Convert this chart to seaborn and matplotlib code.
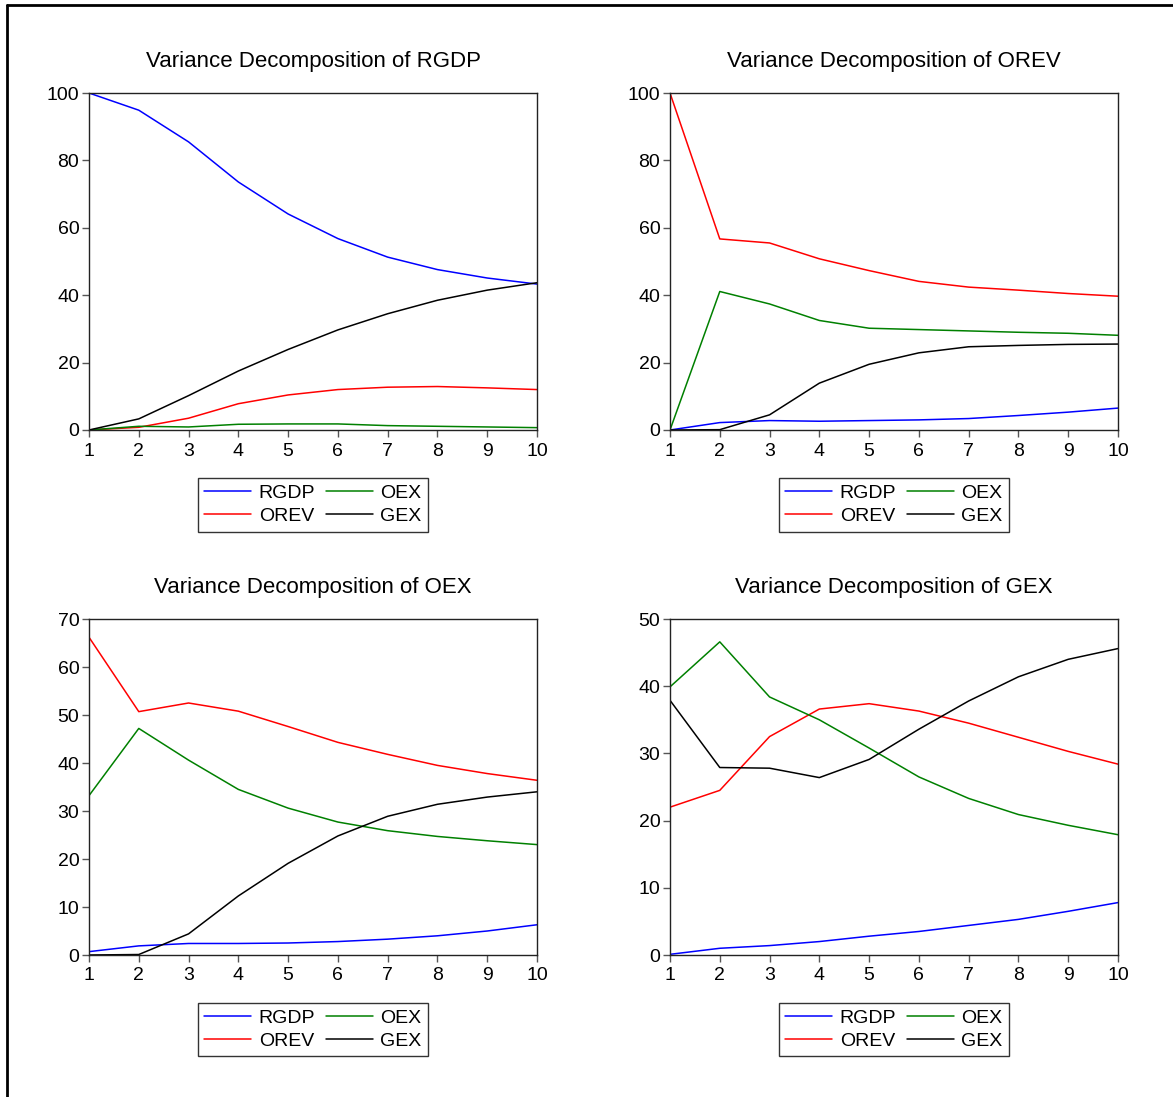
import matplotlib
matplotlib.use('Agg')
import matplotlib.pyplot as plt
from matplotlib.lines import Line2D
import seaborn as sns
import pandas as pd

periods = [1, 2, 3, 4, 5, 6, 7, 8, 9, 10]
shocks = ['RGDP', 'OREV', 'OEX', 'GEX']
getColor = {'RGDP': 'blue', 'OREV': 'red', 'OEX': 'green', 'GEX': 'black'}

### Variance decomposition of RGDP
rgdp_rgdp = [100, 94.9, 85.5, 73.6, 64.1, 56.8, 51.3, 47.6, 45.1, 43.3]
rgdp_orev = [0, 0.8, 3.5, 7.8, 10.4, 12.0, 12.7, 12.9, 12.5, 12.0]
rgdp_oex = [0, 1.1, 0.9, 1.7, 1.8, 1.8, 1.3, 1.1, 0.9, 0.7]
rgdp_gex = [0, 3.3, 10.2, 17.5, 23.9, 29.7, 34.5, 38.5, 41.5, 43.7]

### Variance decomposition of OREV
orev_rgdp = [0, 2.2, 2.8, 2.6, 2.8, 3.0, 3.4, 4.3, 5.3, 6.5]
orev_orev = [100, 56.7, 55.5, 50.8, 47.3, 44.1, 42.4, 41.5, 40.5, 39.7]
orev_oex = [0, 41.1, 37.4, 32.5, 30.2, 29.8, 29.4, 29.0, 28.7, 28.1]
orev_gex = [0, 0.1, 4.5, 13.9, 19.5, 22.9, 24.7, 25.1, 25.4, 25.5]

### Variance decomposition of OEX
oex_rgdp = [0.7, 1.9, 2.4, 2.4, 2.5, 2.8, 3.3, 4.0, 5.0, 6.3]
oex_orev = [66.2, 50.7, 52.5, 50.8, 47.6, 44.3, 41.8, 39.5, 37.8, 36.4]
oex_oex = [33.2, 47.2, 40.6, 34.5, 30.6, 27.7, 25.9, 24.7, 23.8, 23.0]
oex_gex = [0, 0.1, 4.4, 12.3, 19.1, 24.8, 28.9, 31.4, 32.9, 34.0]

### Variance decomposition of GEX
gex_rgdp = [0.1, 1.0, 1.4, 2.0, 2.8, 3.5, 4.4, 5.3, 6.5, 7.8]
gex_orev = [22.0, 24.5, 32.5, 36.6, 37.4, 36.3, 34.5, 32.4, 30.3, 28.4]
gex_oex = [39.9, 46.6, 38.4, 35.0, 30.8, 26.5, 23.3, 20.9, 19.3, 17.9]
gex_gex = [37.9, 27.9, 27.8, 26.4, 29.1, 33.6, 37.8, 41.4, 44.0, 45.6]

targets = ['RGDP', 'OREV', 'OEX', 'GEX']
series = {
    'RGDP': [rgdp_rgdp, rgdp_orev, rgdp_oex, rgdp_gex],
    'OREV': [orev_rgdp, orev_orev, orev_oex, orev_gex],
    'OEX': [oex_rgdp, oex_orev, oex_oex, oex_gex],
    'GEX': [gex_rgdp, gex_orev, gex_oex, gex_gex],
}
yMax = {'RGDP': 100, 'OREV': 100, 'OEX': 70, 'GEX': 50}
yStep = {'RGDP': 20, 'OREV': 20, 'OEX': 10, 'GEX': 10}

sns.set_style('white')
plt.rcParams['font.family'] = ['Liberation Sans', 'DejaVu Sans']
plt.rcParams['text.color'] = 'black'
plt.rcParams['xtick.color'] = '#555555'
plt.rcParams['ytick.color'] = '#555555'
plt.rcParams['xtick.labelcolor'] = 'black'
plt.rcParams['ytick.labelcolor'] = 'black'

fig = plt.figure(figsize=(11.73, 10.97), dpi=100)
W, H = 1173.0, 1097.0
# axes boxes in pixels: left, top, right, bottom
boxes = [(89, 93, 537, 430), (670, 93, 1118, 430),
         (89, 619, 537, 955), (670, 619, 1118, 955)]

for target, (l, t, r, b) in zip(targets, boxes):
    ax = fig.add_axes([l / W, 1 - b / H, (r - l) / W, (b - t) / H])
    rows = []
    for name, vals in zip(shocks, series[target]):
        for p, v in zip(periods, vals):
            rows.append({'Period': p, 'Value': v, 'Shock': name})
    df = pd.DataFrame(rows)
    sns.lineplot(data=df, x='Period', y='Value', hue='Shock', hue_order=shocks,
                 palette=getColor, linewidth=1.1, ax=ax)

    ### Image Setting
    ax.set_xlim(1, 10)
    ax.set_ylim(0, yMax[target])
    ax.set_xticks(periods)
    ax.set_yticks(range(0, yMax[target] + 1, yStep[target]))
    ax.set_xlabel('')
    ax.set_ylabel('')
    ax.tick_params(axis='both', which='major', direction='out', length=5, width=1,
                   labelsize=14, pad=2, bottom=True, left=True)
    ax.tick_params(axis='x', pad=4)
    for sp in ax.spines.values():
        sp.set_color('#222222')
        sp.set_linewidth(1.0)
    ax.set_title('Variance Decomposition of ' + target, fontsize=16, pad=19, color='black')
    handles, labels = ax.get_legend_handles_labels()
    leg = ax.legend(handles, labels, loc='upper center', bbox_to_anchor=(0.5, -0.142),
                    ncol=2, fontsize=14, frameon=True, fancybox=False, shadow=False,
                    borderaxespad=0, handlelength=2.4, handletextpad=0.4,
                    columnspacing=0.55, labelspacing=0.25, borderpad=0.35)
    leg.get_frame().set_edgecolor('black')
    leg.get_frame().set_linewidth(1.0)

# outer frame lines (left and top)
fig.add_artist(Line2D([7 / W, 7 / W], [0, 1 - 5 / H], color='black', linewidth=2))
fig.add_artist(Line2D([7 / W, 1], [1 - 5 / H, 1 - 5 / H], color='black', linewidth=2))

fig.savefig('out.png', dpi=100)
plt.close()
